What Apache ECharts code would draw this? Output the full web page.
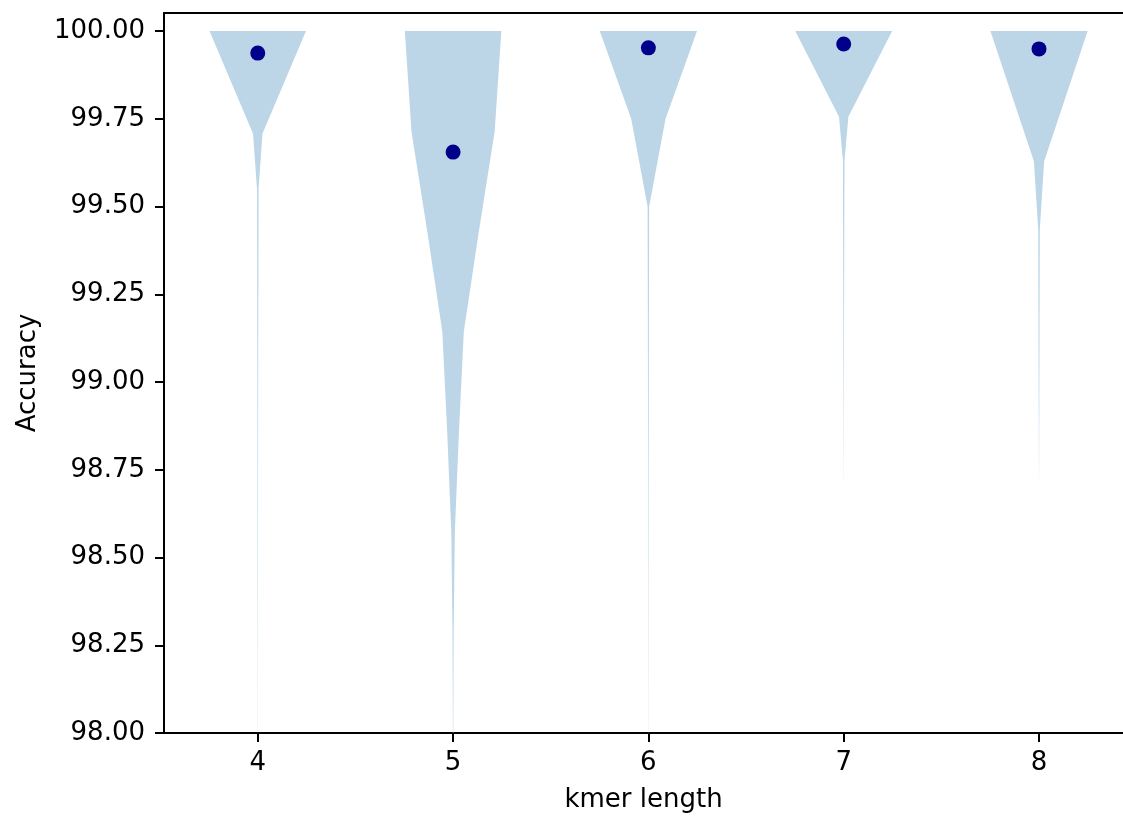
<!DOCTYPE html>
<html>
<head>
    <meta charset="utf-8">
    <title>kmer length - Accuracy</title>
    <style type="text/css">
        html, body { margin: 0; padding: 0; background: #fff; }
        #page { width: 1123px; height: 818px; }
    </style>
</head>
<body>
<div id="page"></div>
<script src="https://cdn.jsdelivr.net/npm/echarts@6/dist/echarts.min.js"></script>
<script>
    // kmer lengths and mean accuracy (dots)
    var kmers = [4, 5, 6, 7, 8];
    var means = [99.937, 99.655, 99.952, 99.963, 99.949];

    // violin outlines: accuracy levels and half widths (in x units)
    var levels4 = [100.00, 99.707, 99.55, 99.00, 98.00];
    var half4 = [0.247, 0.024, 0.004, 0.002, 0.0004];
    var levels5 = [100.00, 99.714, 99.429, 99.143, 98.857, 98.571, 98.286, 98.00];
    var half5 = [0.247, 0.213, 0.132, 0.055, 0.030, 0.009, 0.003, 0.001];
    var levels6 = [100.00, 99.75, 99.50, 99.25, 98.75, 98.00];
    var half6 = [0.249, 0.088, 0.004, 0.003, 0.0015, 0.0004];
    var levels7 = [100.00, 99.756, 99.63, 99.20, 98.72];
    var half7 = [0.248, 0.024, 0.004, 0.002, 0.0003];
    var levels8 = [100.00, 99.628, 99.433, 99.00, 98.72];
    var half8 = [0.249, 0.026, 0.004, 0.002, 0.0003];

    var yTicks = [98.00, 98.25, 98.50, 98.75, 99.00, 99.25, 99.50, 99.75, 100.00];

    var violins = [
        {levels: levels4, half: half4},
        {levels: levels5, half: half5},
        {levels: levels6, half: half6},
        {levels: levels7, half: half7},
        {levels: levels8, half: half8}
    ];

    (function () {
        var chart = echarts.init(document.getElementById('page'));
        var font = 'DejaVu Sans';
        var black = '#000';

        function renderViolin(params, api) {
            var i = params.dataIndex;
            var center = kmers[i];
            var v = violins[i];
            var pts = [];
            var j;
            // right side top -> bottom, left side bottom -> top
            for (j = 0; j < v.levels.length; j++) {
                pts.push(api.coord([center + v.half[j], v.levels[j]]));
            }
            for (j = v.levels.length - 1; j >= 0; j--) {
                pts.push(api.coord([center - v.half[j], v.levels[j]]));
            }
            return {
                type: 'polygon',
                shape: {points: pts},
                style: {fill: '#bcd6e8', stroke: null}
            };
        }

        var option = {
            backgroundColor: '#fff',
            animation: false,
            grid: {left: 164, right: 0, top: 13, bottom: 85},
            xAxis: [
                {
                    type: 'value',
                    min: 3.52,
                    max: 8.43,
                    name: 'kmer length',
                    nameLocation: 'middle',
                    nameGap: 54,
                    nameTextStyle: {color: black, fontFamily: font, fontSize: 26},
                    axisLine: {show: true, onZero: false, lineStyle: {color: black, width: 2}},
                    axisTick: {show: true, length: 9, lineStyle: {color: black, width: 2}, customValues: kmers},
                    axisLabel: {color: black, fontFamily: font, fontSize: 26, margin: 17, customValues: kmers},
                    splitLine: {show: false}
                },
                {
                    type: 'value',
                    position: 'top',
                    min: 3.52,
                    max: 8.43,
                    axisLine: {show: true, onZero: false, lineStyle: {color: black, width: 2}},
                    axisTick: {show: false},
                    axisLabel: {show: false},
                    splitLine: {show: false}
                }
            ],
            yAxis: {
                type: 'value',
                min: 98,
                max: 100.0513,
                name: 'Accuracy',
                nameLocation: 'middle',
                nameGap: 123,
                nameTextStyle: {color: black, fontFamily: font, fontSize: 26},
                axisLine: {show: true, onZero: false, lineStyle: {color: black, width: 2}},
                axisTick: {show: true, length: 9, lineStyle: {color: black, width: 2}, customValues: yTicks},
                axisLabel: {
                    color: black, fontFamily: font, fontSize: 26, margin: 19, customValues: yTicks,
                    formatter: function (val) { return val.toFixed(2); }
                },
                splitLine: {show: false}
            },
            series: [
                {
                    type: 'custom',
                    renderItem: renderViolin,
                    data: kmers.map(function (k, i) { return [k, means[i]]; }),
                    silent: true,
                    z: 1
                },
                {
                    type: 'scatter',
                    symbolSize: 15,
                    itemStyle: {color: '#00008b', opacity: 1},
                    data: kmers.map(function (k, i) { return [k, means[i]]; }),
                    z: 3
                }
            ]
        };
        chart.setOption(option);
    })();
</script>
</body>
</html>
